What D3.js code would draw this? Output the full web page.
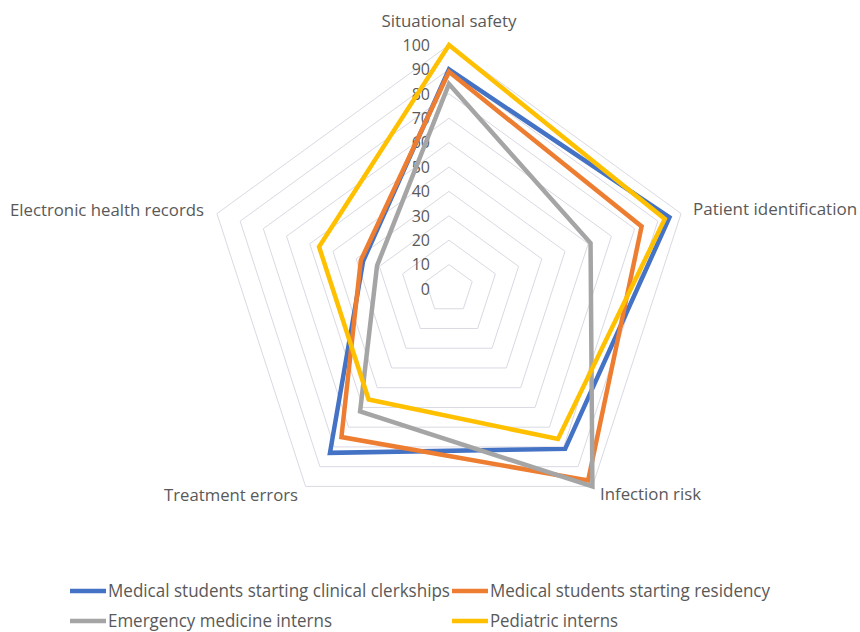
<!DOCTYPE html>
<html>
<head>
<meta charset="utf-8">
<script src="https://cdn.jsdelivr.net/npm/d3@7"></script>
<style>
  html, body { margin: 0; padding: 0; background: #fff; }
  svg text { font-family: "Open Sans", "Noto Sans", sans-serif; fill: #595959; }
</style>
</head>
<body>
<svg id="chart" width="860" height="632"></svg>
<script>
const categories = ["Situational safety", "Patient identification", "Infection risk", "Treatment errors", "Electronic health records"];
const seriesNames = ["Medical students starting clinical clerkships", "Medical students starting residency", "Emergency medicine interns", "Pediatric interns"];
const clerkships = [90, 95, 81, 83, 37];
const residency = [89, 83, 97, 75, 38];
const emergency = [84, 61, 100, 62, 31];
const pediatric = [100, 93, 76, 56, 56];
const tickValues = [0, 10, 20, 30, 40, 50, 60, 70, 80, 90, 100];
const colors = ["#4472C4", "#ED7D31", "#A5A5A5", "#FFC000"];

const seriesValues = [clerkships, residency, emergency, pediatric];

const svg = d3.select("#chart");
const cx = 449, cy = 289, R = 244;
const r = d3.scaleLinear().domain([0, 100]).range([0, R]);
const angle = d3.scaleLinear().domain([0, categories.length]).range([0, 2 * Math.PI]);

const radial = d3.lineRadial()
  .angle((d, i) => angle(i))
  .radius(d => r(d))
  .curve(d3.curveLinearClosed);

const g = svg.append("g").attr("transform", `translate(${cx},${cy})`);

// grid pentagons
g.selectAll("path.grid")
  .data(tickValues.filter(t => t > 0))
  .join("path")
  .attr("class", "grid")
  .attr("d", t => radial(categories.map(() => t)))
  .attr("fill", "none")
  .attr("stroke", "#d9d9e3")
  .attr("stroke-width", 1);

// tick labels
g.selectAll("text.tick")
  .data(tickValues)
  .join("text")
  .attr("class", "tick")
  .attr("x", -19)
  .attr("y", t => -r(t))
  .attr("dy", "0.36em")
  .attr("text-anchor", "end")
  .style("font-size", "16px")
  .text(t => t);

// series
g.selectAll("path.series")
  .data(seriesValues)
  .join("path")
  .attr("class", "series")
  .attr("d", d => radial(d))
  .attr("fill", "none")
  .attr("stroke", (d, i) => colors[i])
  .attr("stroke-width", 4.5)
  .attr("stroke-linejoin", "miter");

function fit(sel, w) {
  sel.each(function() {
    const len = this.getComputedTextLength();
    if (Math.abs(len - w) > 1) {
      d3.select(this).attr("textLength", w).attr("lengthAdjust", "spacingAndGlyphs");
    }
  });
}

// category labels
const catLabels = [
  { x: 449, y: 27, anchor: "middle", w: 135 },
  { x: 693, y: 215, anchor: "start", w: 164 },
  { x: 600, y: 500, anchor: "start", w: 101 },
  { x: 298, y: 501, anchor: "end", w: 134 },
  { x: 204, y: 216, anchor: "end", w: 194 }
];
categories.forEach((c, i) => {
  const L = catLabels[i];
  const t = svg.append("text")
    .attr("x", L.x).attr("y", L.y)
    .attr("text-anchor", L.anchor)
    .style("font-size", "17px")
    .text(c);
  fit(t, L.w);
});

// legend
const legendItems = [
  { x: 70, y: 591, tx: 108, w: 342 },
  { x: 452, y: 591, tx: 490, w: 280 },
  { x: 70, y: 621, tx: 108, w: 224 },
  { x: 452, y: 621, tx: 490, w: 128 }
];
seriesNames.forEach((n, i) => {
  const L = legendItems[i];
  svg.append("line")
    .attr("x1", L.x).attr("x2", L.x + 36)
    .attr("y1", L.y).attr("y2", L.y)
    .attr("stroke", colors[i]).attr("stroke-width", 4.5);
  const t = svg.append("text")
    .attr("x", L.tx).attr("y", L.y).attr("dy", "0.34em")
    .style("font-size", "17.5px")
    .text(n);
  fit(t, L.w);
});
</script>
</body>
</html>
